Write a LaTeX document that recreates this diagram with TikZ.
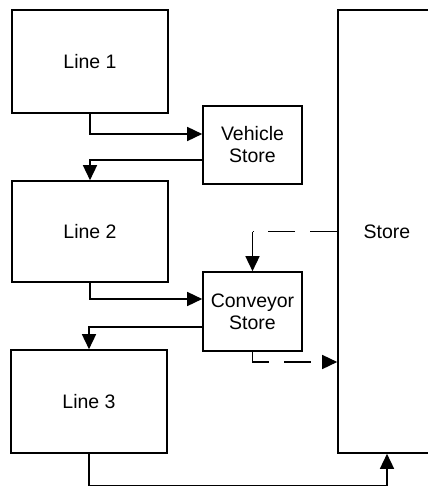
\documentclass[tikz,border=0pt]{standalone}
\usepackage{fontspec}
\setmainfont{Liberation Sans}
\usetikzlibrary{arrows.meta,calc}
\begin{document}
\begin{tikzpicture}[x=1pt,y=-1pt,
  box/.style={draw,line width=1.6pt,inner sep=0pt,align=center,
    font=\fontsize{19.5}{22}\selectfont},
  conn/.style={line width=1.5pt},
  arr/.style={conn,-{Triangle[length=15pt,width=14pt]}},
  dsh/.style={dash pattern=on 27pt off 15pt}]
\useasboundingbox (0,0) rectangle (428,487);
\clip (0,0) rectangle (428,487);
\node[box,minimum width=156pt,minimum height=103pt] (l1) at (90,61.5) {Line 1};
\node[box,minimum width=156pt,minimum height=101pt] (l2) at (90,231.5) {Line 2};
\node[box,minimum width=156pt,minimum height=103pt] (l3) at (89,401.5) {Line 3};
\node[box,minimum width=99pt,minimum height=78pt] (vs) at (252.5,145) {Vehicle\\Store};
\node[box,minimum width=99pt,minimum height=79pt] (cs) at (252.5,311.5) {Conveyor\\Store};
\node[box,minimum width=98pt,minimum height=443pt] (st) at (387,231.5) {Store};
\coordinate (bot) at (0,485.7);
\draw[arr] (l1.south) |- ([yshift=11pt]vs.west);
\draw[arr] ([yshift=-15pt]vs.west) -| (l2.north);
\draw[arr] (l2.south) |- ([yshift=12.5pt]cs.west);
\draw[arr] ([yshift=-15.5pt]cs.west) -| (l3.north);
\coordinate (c1) at (cs.north |- st.west);
\draw[conn,dsh] (st.west) -- (c1);
\draw[arr] (c1) -- (cs.north);
\draw[arr,dsh] (cs.south) |- ([yshift=-130.5pt]st.west);
\draw[arr] (l3.south) |- (bot -| st.south) -- (st.south);
\end{tikzpicture}
\end{document}
